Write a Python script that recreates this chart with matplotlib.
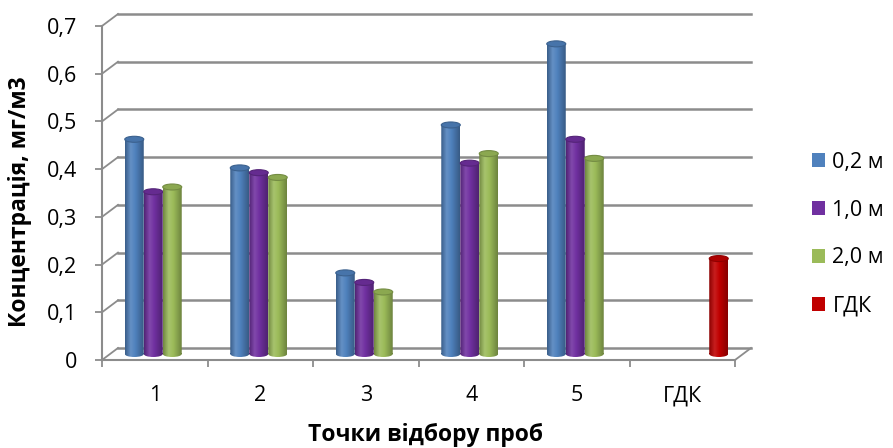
"""Excel-style 3D cylinder chart: concentration by sampling point and depth."""

import numpy as np
import matplotlib

matplotlib.use("Agg")

import matplotlib.pyplot as plt  # noqa: E402
from matplotlib.colors import LinearSegmentedColormap, to_rgb  # noqa: E402
from matplotlib.patches import Ellipse, Patch, PathPatch  # noqa: E402
from matplotlib.path import Path  # noqa: E402
from matplotlib.transforms import offset_copy  # noqa: E402

categories = ["1", "2", "3", "4", "5", "ГДК"]
series_labels = ["0,2 м", "1,0 м", "2,0 м", "ГДК"]
depth_02 = [0.45, 0.39, 0.17, 0.48, 0.65, 0.0]
depth_10 = [0.34, 0.38, 0.15, 0.40, 0.45, 0.0]
depth_20 = [0.35, 0.37, 0.13, 0.42, 0.41, 0.0]
limit_gdk = [0.0, 0.0, 0.0, 0.0, 0.0, 0.20]
y_ticks = [0.0, 0.1, 0.2, 0.3, 0.4, 0.5, 0.6, 0.7]
y_tick_labels = ["0", "0,1", "0,2", "0,3", "0,4", "0,5", "0,6", "0,7"]

colors = ["#4F81BD", "#7030A0", "#9BBB59", "#C00000"]
grid_color = "#8C8C8C"

plt.rcParams["font.family"] = ["Open Sans", "DejaVu Sans"]
FS = 15.5

W, H, DPI = 893, 448, 100
fig = plt.figure(figsize=(W / DPI, H / DPI), dpi=DPI)
# front plane of the plot box, in pixels
left, right, top, bottom = 102, 735, 26, 360
ax = fig.add_axes([left / W, 1 - bottom / H, (right - left) / W, (bottom - top) / H])
ax.set_xlim(0, len(categories))
ax.set_ylim(0, 0.7)
for s in ax.spines.values():
    s.set_visible(False)

# depth of the 3D box in pixels -> data units
depth_px = (16, 12)
ddx = depth_px[0] * len(categories) / (right - left)
ddy = depth_px[1] * 0.7 / (bottom - top)
n_cat = len(categories)

# back wall gridlines + diagonals on the left wall
for v in y_ticks:
    ax.plot([ddx, n_cat + ddx], [v + ddy, v + ddy], color=grid_color, lw=1.8,
            clip_on=False, zorder=1)
    ax.plot([0, ddx], [v, v + ddy], color=grid_color, lw=1.3, clip_on=False, zorder=1)
# floor right edge
ax.plot([n_cat, n_cat + ddx], [0, ddy], color=grid_color, lw=1.3, clip_on=False, zorder=1)
# front axes
ax.plot([0, n_cat], [0, 0], color=grid_color, lw=1.5, clip_on=False, zorder=2)
ax.plot([0, 0], [0, 0.7], color=grid_color, lw=1.5, clip_on=False, zorder=2)

ax.set_yticks(y_ticks)
ax.set_yticklabels(y_tick_labels)
ax.set_xticks(np.arange(n_cat + 1))
ax.set_xticklabels([])
ax.set_xticks(np.arange(n_cat) + 0.5, minor=True)
ax.set_xticklabels(categories, minor=True)
ax.tick_params(axis="both", which="major", color=grid_color, width=1.3, length=5,
               labelsize=FS, pad=13)
ax.tick_params(axis="x", which="minor", length=0, labelsize=FS, pad=18)

# bars sit at mid depth
mid = offset_copy(ax.transData, fig=fig, x=depth_px[0] / 2, y=depth_px[1] / 2, units="dots")
bar_w = 0.18
cap_h = 6 * 0.7 / (bottom - top)
grad = np.linspace(0, 1, 128).reshape(1, -1)
x = np.arange(n_cat) + 0.5
all_series = [depth_02, depth_10, depth_20, limit_gdk]


def shade(c, f):
    r = np.array(to_rgb(c))
    return tuple(r * f) if f < 1 else tuple(r + (1 - r) * (f - 1))


for j, (vals, col) in enumerate(zip(all_series, colors)):
    heights = np.array(vals)
    heights = np.where(heights > 0, heights, np.nan)
    bars = ax.bar(x + (j - 1.5) * bar_w, heights, bar_w, color="none", transform=mid,
                  zorder=3 + j)
    cmap = LinearSegmentedColormap.from_list(
        f"cyl{j}", [(0, shade(col, 0.72)), (0.3, shade(col, 1.12)),
                    (0.55, shade(col, 1.0)), (1, shade(col, 0.7))])
    for rect in bars:
        h = rect.get_height()
        if not np.isfinite(h) or h <= 0:
            continue
        x0, y0, w = rect.get_x(), rect.get_y(), rect.get_width()
        body_rect = Path([(x0, y0), (x0 + w, y0), (x0 + w, y0 + h), (x0, y0 + h), (x0, y0)])
        base = Ellipse((x0 + w / 2, y0), w, cap_h)
        base_path = base.get_patch_transform().transform_path(base.get_path())
        clip = PathPatch(Path.make_compound_path(body_rect, base_path), transform=mid)
        im = ax.imshow(grad, cmap=cmap, extent=(x0, x0 + w, y0 - cap_h, y0 + h),
                       aspect="auto", transform=mid, zorder=3 + j, interpolation="bilinear")
        im.set_clip_path(clip)
        ax.add_patch(Ellipse((x0 + w / 2, y0 + h), w, cap_h, facecolor=shade(col, 0.9),
                             edgecolor=shade(col, 0.75), lw=0.8, transform=mid,
                             zorder=3 + j))

ax.set_xlim(0, n_cat)
ax.set_ylim(0, 0.7)

fig.text(20 / W, 1 - 202 / H, "Концентрація, мг/м3", rotation=90, ha="center",
         va="center", fontsize=16.5, fontweight="bold")
fig.text(425 / W, 1 - 441 / H, "Точки відбору проб", ha="center", va="baseline",
         fontsize=16.5, fontweight="bold")

handles = [Patch(facecolor=c, edgecolor="none") for c in colors]
fig.legend(handles, series_labels, loc="center left", bbox_to_anchor=(803 / W, 1 - 234 / H),
           frameon=False, fontsize=FS, handlelength=0.62, handleheight=0.62,
           handletextpad=0.35, labelspacing=1.25, borderaxespad=0)

fig.savefig("out.png", dpi=DPI)
plt.close(fig)
